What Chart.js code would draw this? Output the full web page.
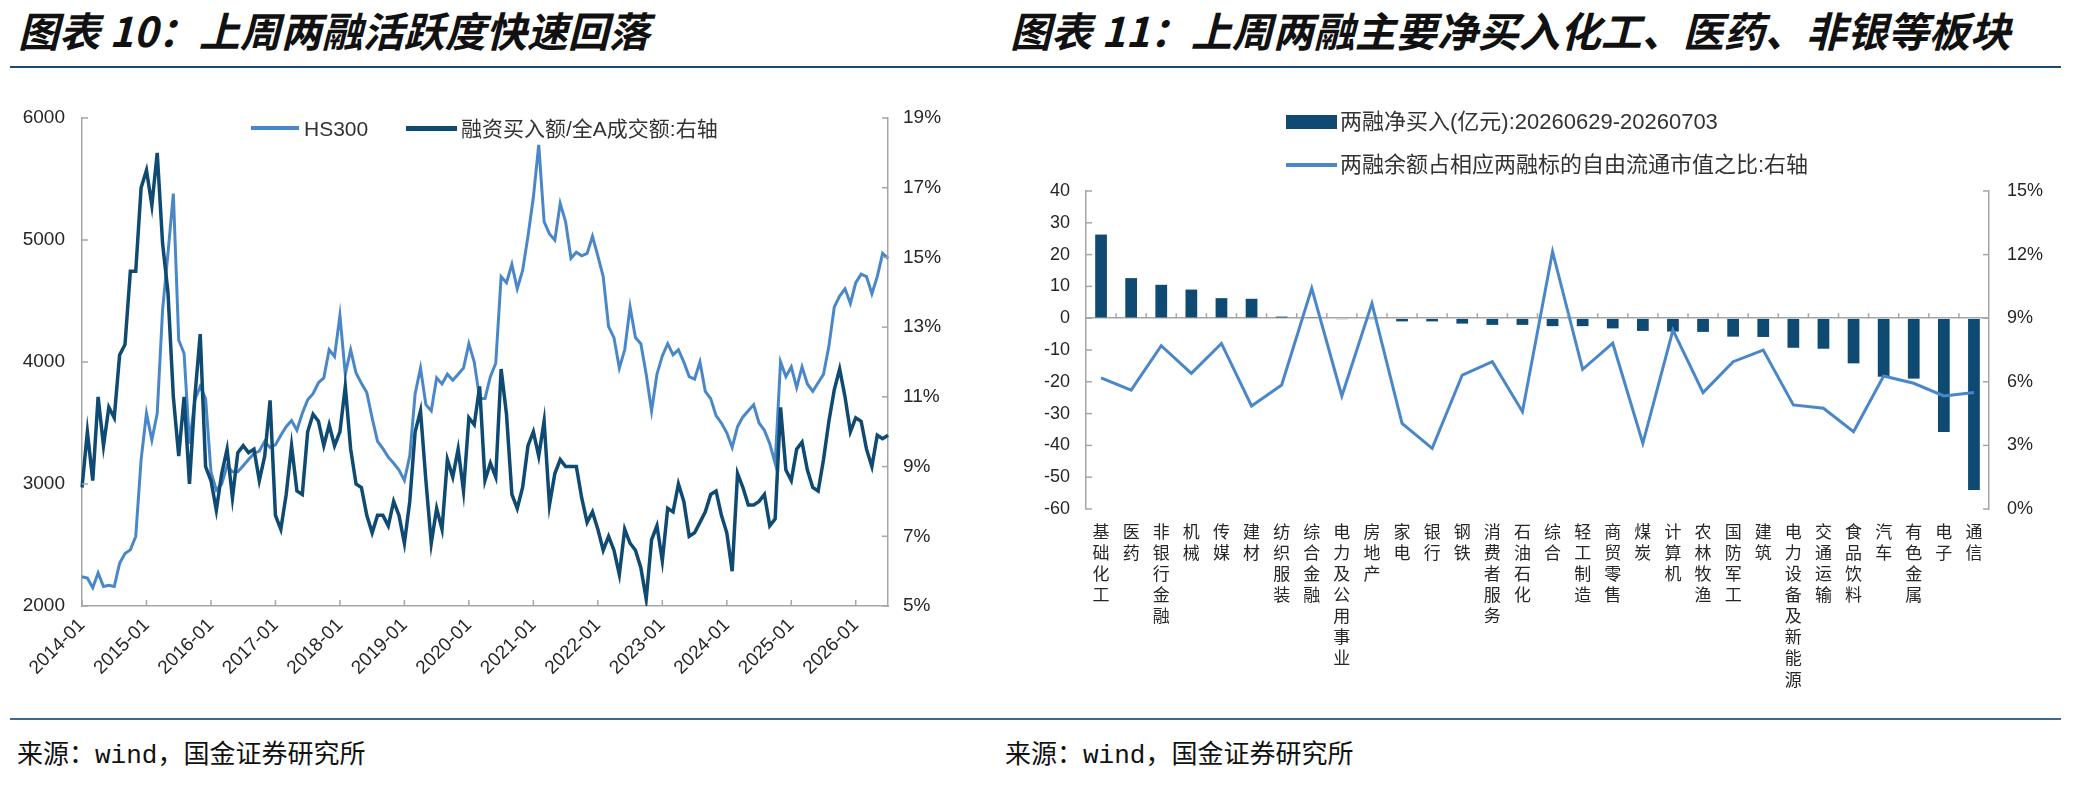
<!DOCTYPE html>
<html>
<head>
<meta charset="utf-8">
<script src="https://cdn.jsdelivr.net/npm/chart.js@4.4.1/dist/chart.umd.min.js"></script>
<style>
  body { margin: 0; background: #fff; }
  #page { position: relative; width: 2082px; height: 793px; overflow: hidden; }
  .title { position: absolute; top: 6px; font: italic 700 41px "Noto Sans CJK SC", sans-serif; color: #111; white-space: nowrap; line-height: 46px; }
  .rule { position: absolute; left: 10px; width: 2051px; height: 2px; }
  .src { position: absolute; top: 738px; font: 26px "Liberation Mono", "Noto Sans CJK SC", monospace; color: #111; white-space: nowrap; line-height: 36px; }
  .box { position: absolute; top: 80px; height: 625px; }
  .lg { position: absolute; font: 21px "Liberation Sans", "Noto Sans CJK SC", sans-serif; color: #333; white-space: nowrap; line-height: 26px; }
  .sw { position: absolute; }
</style>
</head>
<body>
<div id="page">
  <div class="title" style="left:18px">图表 10：上周两融活跃度快速回落</div>
  <div class="title" style="left:1010px">图表 11：上周两融主要净买入化工、医药、非银等板块</div>
  <div class="rule" style="top:66px;background:#1c4a6e"></div>

  <div class="box" style="left:0;width:1000px"><canvas id="c1" width="1000" height="625"></canvas></div>
  <div class="box" style="left:1000px;width:1082px"><canvas id="c2" width="1082" height="625"></canvas></div>

  <div class="sw" style="left:251px;top:126px;width:48px;height:4px;background:#4a87c9"></div>
  <div class="lg" style="left:304px;top:116px">HS300</div>
  <div class="sw" style="left:406px;top:126px;width:51px;height:5px;background:#0e4a72"></div>
  <div class="lg" style="left:461px;top:116px">融资买入额/全A成交额:右轴</div>

  <div class="sw" style="left:1286px;top:115px;width:51px;height:14px;background:#0e4a72"></div>
  <div class="lg" style="left:1340px;top:109px;font-size:22px">两融净买入(亿元):20260629-20260703</div>
  <div class="sw" style="left:1286px;top:163px;width:51px;height:4px;background:#4a87c9"></div>
  <div class="lg" style="left:1340px;top:152px;font-size:22px">两融余额占相应两融标的自由流通市值之比:右轴</div>

  <div class="rule" style="top:718px;background:#3a6a94"></div>
  <div class="src" style="left:17px">来源：wind，国金证券研究所</div>
  <div class="src" style="left:1005px">来源：wind，国金证券研究所</div>
</div>
<script>
const DARK = '#0e4a72';
const LIGHT = '#4a87c9';
const AXIS = '#a6a6a6';
const TEXT = '#262626';

// 图表10：月度，2014-01 起
const startYear = 2014;
const hs300 = [
  2240, 2230, 2150, 2270, 2160, 2170, 2160, 2350, 2430, 2460, 2570, 3200,
  3580, 3360, 3580, 4430, 4890, 5380, 4180, 4070, 3330, 3690, 3800, 3700,
  3100, 2950, 3000, 3150, 3100, 3100, 3150, 3200, 3250, 3270, 3350, 3300,
  3320, 3400, 3470, 3520, 3440, 3580, 3690, 3740, 3830, 3870, 4100, 4045,
  4380, 3900, 4100, 3910, 3825, 3750, 3540, 3350, 3290, 3220, 3170, 3115,
  3030, 3230, 3740, 3950, 3650, 3600, 3870, 3820, 3900, 3850, 3900, 3950,
  4150, 4000, 3700, 3700, 3880, 3990, 4700, 4650, 4800, 4600, 4750, 5030,
  5350, 5780, 5150, 5050, 5000, 5300, 5150, 4850, 4900, 4870, 4890, 5030,
  4870, 4700, 4290, 4200, 3950, 4100, 4450, 4200, 4150, 3900, 3600, 3900,
  4050, 4150, 4060, 4100, 4000, 3880, 3860, 4000, 3760, 3700, 3560, 3500,
  3420, 3300, 3470, 3550, 3600, 3650, 3500, 3440, 3330, 3170, 4000, 3880,
  3960, 3790, 3960, 3820, 3760, 3830, 3900, 4130, 4450, 4540, 4600, 4480,
  4650, 4720, 4700, 4560, 4700, 4890, 4850
];
const finRatio = [
  8.4, 10.0, 8.6, 11.0, 9.6, 10.7, 10.4, 12.2, 12.5, 14.6, 14.6, 17.0,
  17.5, 16.5, 18.0, 15.4, 14.0, 11.0, 9.3, 11.0, 8.5, 11.0, 12.8, 9.0,
  8.6, 7.75, 8.8, 9.5, 8.1, 9.4, 9.6, 9.4, 9.5, 8.6, 9.3, 10.9,
  7.6, 7.2, 8.2, 9.6, 8.3, 8.2, 10.0, 10.5, 10.3, 9.6, 10.2, 9.6,
  10.0, 11.3, 9.5, 8.5, 8.4, 7.6, 7.1, 7.6, 7.6, 7.3, 8.0, 7.6,
  6.8, 8.0, 10.0, 10.6, 8.6, 6.8, 7.8, 7.2, 9.2, 8.7, 9.5, 8.3,
  10.4, 10.2, 11.3, 8.6, 9.1, 8.7, 11.8, 10.5, 8.2, 7.8, 8.4, 9.6,
  10.0, 9.3, 10.3, 7.9, 8.8, 9.2, 9.0, 9.0, 9.0, 8.1, 7.4, 7.7,
  7.2, 6.6, 7.0, 6.6, 5.9, 7.2, 6.8, 6.6, 6.1, 5.2, 6.9, 7.3,
  6.3, 7.8, 7.7, 8.5, 8.0, 7.0, 7.1, 7.4, 7.7, 8.2, 8.3, 7.6,
  7.1, 6.0, 8.8, 8.4, 7.9, 7.9, 8.0, 8.2, 7.3, 7.5, 10.7, 8.9,
  8.6, 9.5, 9.7, 8.9, 8.4, 8.3, 9.2, 10.3, 11.2, 11.8, 11.0, 10.0,
  10.4, 10.3, 9.5, 9.0, 9.9, 9.8, 9.9
];
const months = hs300.map((_, i) =>
  (startYear + Math.floor(i / 12)) + '-' + String(i % 12 + 1).padStart(2, '0'));

// 图表11：行业
const sectors = [
  '基础化工', '医药', '非银行金融', '机械', '传媒', '建材', '纺织服装', '综合金融',
  '电力及公用事业', '房地产', '家电', '银行', '钢铁', '消费者服务', '石油石化', '综合',
  '轻工制造', '商贸零售', '煤炭', '计算机', '农林牧渔', '国防军工', '建筑',
  '电力设备及新能源', '交通运输', '食品饮料', '汽车', '有色金属', '电子', '通信'
];
const netBuy = [
  26.3, 12.6, 10.5, 9.0, 6.3, 6.1, 0.5, 0.3, -0.3, -0.3, -1.0, -1.0, -1.7, -2.1, -2.1,
  -2.5, -2.5, -3.2, -4.0, -4.2, -4.3, -5.8, -5.9, -9.3, -9.6, -14.2, -18.4, -19.0, -35.8, -54.0
];
const marginShare = [
  6.19, 5.61, 7.70, 6.40, 7.81, 4.86, 5.85, 10.41, 5.33, 9.70, 4.04, 2.86, 6.32, 6.95, 4.59,
  12.14, 6.59, 7.82, 3.10, 8.44, 5.49, 6.95, 7.50, 4.91, 4.75, 3.65, 6.27, 5.93, 5.33, 5.49
];

const tickFont = { family: 'Liberation Sans', size: 19 };

function line(ctx, x1, y1, x2, y2) {
  ctx.beginPath(); ctx.moveTo(x1, y1); ctx.lineTo(x2, y2); ctx.stroke();
}

// inward tick marks, like the source charts
const innerTicksLeft = {
  id: 'innerTicksLeft',
  afterDraw(chart) {
    const { ctx, chartArea: a, scales } = chart;
    ctx.save();
    ctx.strokeStyle = AXIS; ctx.lineWidth = 1.5;
    months.forEach((m, i) => {
      if (m.endsWith('-01')) {
        const px = scales.x.getPixelForValue(i);
        line(ctx, px, a.bottom, px, a.bottom - 6);
      }
    });
    scales.y.ticks.forEach(t => {
      const py = scales.y.getPixelForValue(t.value);
      line(ctx, a.left, py, a.left + 6, py);
    });
    scales.y1.ticks.forEach(t => {
      const py = scales.y1.getPixelForValue(t.value);
      line(ctx, a.right, py, a.right - 6, py);
    });
    ctx.restore();
  }
};

const innerTicksRight = {
  id: 'innerTicksRight',
  afterDraw(chart) {
    const { ctx, chartArea: a, scales } = chart;
    ctx.save();
    ctx.strokeStyle = AXIS; ctx.lineWidth = 1.5;
    const zero = scales.y.getPixelForValue(0);
    for (let i = 0; i < sectors.length - 1; i++) {
      const px = (scales.x.getPixelForValue(i) + scales.x.getPixelForValue(i + 1)) / 2;
      line(ctx, px, zero, px, zero - 5);
    }
    scales.y.ticks.forEach(t => {
      const py = scales.y.getPixelForValue(t.value);
      line(ctx, a.left, py, a.left + 6, py);
    });
    scales.y1.ticks.forEach(t => {
      const py = scales.y1.getPixelForValue(t.value);
      line(ctx, a.right, py, a.right - 6, py);
    });
    ctx.restore();
  }
};

new Chart(document.getElementById('c1'), {
  type: 'line',
  data: {
    labels: months,
    datasets: [
      { label: 'HS300', data: hs300, yAxisID: 'y', borderColor: LIGHT, borderWidth: 3,
        pointRadius: 0, tension: 0, order: 1 },
      { label: '融资买入额/全A成交额:右轴', data: finRatio, yAxisID: 'y1', borderColor: DARK,
        borderWidth: 3.5, pointRadius: 0, tension: 0, order: 0 }
    ]
  },
  options: {
    responsive: false,
    animation: false,
    layout: { padding: { top: 38, left: 0, right: 0, bottom: 0 } },
    plugins: { legend: { display: false }, tooltip: { enabled: false } },
    scales: {
      x: {
        grid: { display: false, drawTicks: false },
        border: { color: AXIS, width: 1.5 },
        ticks: {
          autoSkip: false, minRotation: 45, maxRotation: 45, padding: 8,
          color: TEXT, font: tickFont,
          callback: (v, i) => months[i].endsWith('-01') ? months[i] : ''
        },
        afterFit: s => { s.height = 99; }
      },
      y: {
        position: 'left', min: 2000, max: 6000,
        grid: { display: false, drawTicks: false },
        border: { color: AXIS, width: 1.5 },
        ticks: { stepSize: 1000, padding: 17, color: TEXT, font: tickFont, callback: v => String(v) },
        afterFit: s => { s.width = 82; }
      },
      y1: {
        position: 'right', min: 5, max: 19,
        grid: { display: false, drawTicks: false },
        border: { color: AXIS, width: 1.5 },
        ticks: { stepSize: 2, padding: 15, color: TEXT, font: tickFont, callback: v => v + '%' },
        afterFit: s => { s.width = 112; }
      }
    }
  },
  plugins: [innerTicksLeft]
});

new Chart(document.getElementById('c2'), {
  data: {
    labels: sectors.map(s => Array.from(s)),
    datasets: [
      { type: 'line', label: '两融余额占相应两融标的自由流通市值之比:右轴', data: marginShare,
        yAxisID: 'y1', borderColor: LIGHT, borderWidth: 3, pointRadius: 0, tension: 0, order: 0 },
      { type: 'bar', label: '两融净买入(亿元):20260629-20260703', data: netBuy,
        yAxisID: 'y', backgroundColor: DARK, barPercentage: 0.39, categoryPercentage: 1, order: 1 }
    ]
  },
  options: {
    responsive: false,
    animation: false,
    layout: { padding: { top: 111, left: 0, right: 0, bottom: 0 } },
    plugins: { legend: { display: false }, tooltip: { enabled: false } },
    scales: {
      x: {
        grid: { display: false, drawTicks: false },
        border: { display: false },
        ticks: {
          autoSkip: false, minRotation: 0, maxRotation: 0, padding: 12, color: TEXT,
          font: { family: 'Noto Sans CJK SC', size: 17, lineHeight: 1.24 }
        },
        afterFit: s => { s.height = 196; }
      },
      y: {
        position: 'left', min: -60, max: 40,
        grid: { drawTicks: false, lineWidth: 1.5, color: c => c.tick && c.tick.value === 0 ? AXIS : 'rgba(0,0,0,0)' },
        border: { color: AXIS, width: 1.5 },
        ticks: { stepSize: 10, padding: 16, color: TEXT, font: { family: 'Liberation Sans', size: 18 } },
        afterFit: s => { s.width = 86; }
      },
      y1: {
        position: 'right', min: 0, max: 15,
        grid: { display: false, drawTicks: false },
        border: { color: AXIS, width: 1.5 },
        ticks: { stepSize: 3, padding: 18, color: TEXT, font: { family: 'Liberation Sans', size: 18 },
          callback: v => v + '%' },
        afterFit: s => { s.width = 93; }
      }
    }
  },
  plugins: [innerTicksRight]
});
</script>
</body>
</html>
